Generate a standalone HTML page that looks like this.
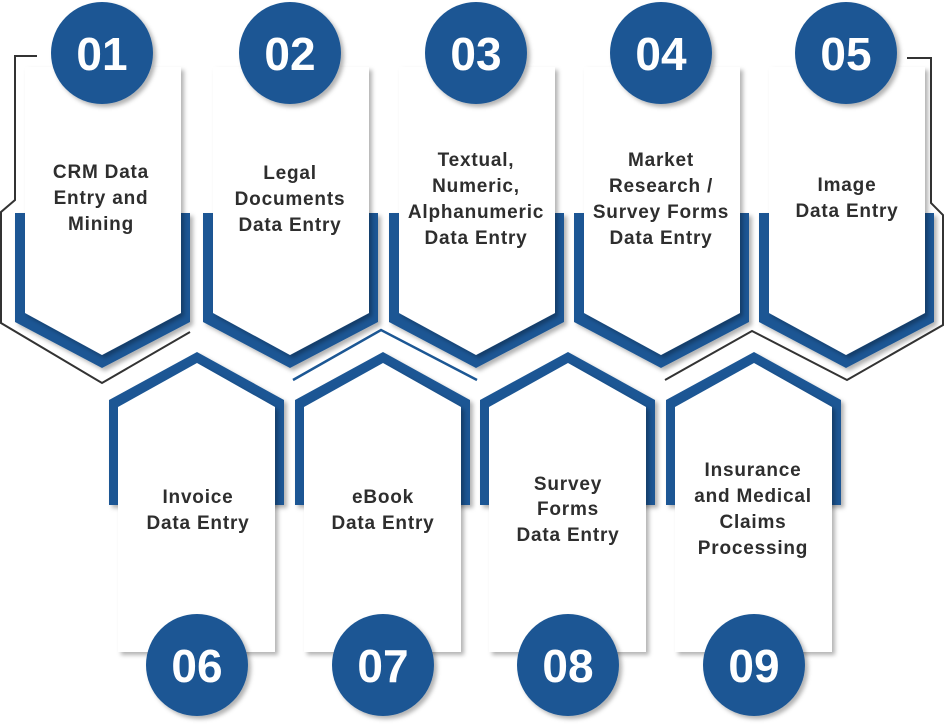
<!DOCTYPE html>
<html><head><meta charset="utf-8"><style>
html,body{margin:0;padding:0;background:#fff;}
svg{display:block;}
.t{font-family:"Liberation Sans",sans-serif;font-weight:bold;font-size:19px;fill:#2e2e2e;text-anchor:middle;letter-spacing:0.8px;}
.n{font-family:"Liberation Sans",sans-serif;font-weight:bold;font-size:46px;fill:#fff;text-anchor:middle;}
</style></head><body>
<svg width="946" height="724" viewBox="0 0 946 724" xmlns="http://www.w3.org/2000/svg">
<defs>
<filter id="sh" x="-20%" y="-20%" width="140%" height="140%"><feDropShadow dx="3" dy="3" stdDeviation="2" flood-color="#000" flood-opacity="0.3"/></filter>
<g id="top">
<polygon points="-87,213 88,213 88,322 0,368 -87,322" fill="#1c5794" filter="url(#sh)"/>
<polygon points="-77,67 79,67 79,313 0,355 -77,313" fill="#fff" filter="url(#sh)"/>
<circle cx="0" cy="53" r="51" fill="#1c5794" filter="url(#sh)"/>
</g>
<g id="bot">
<polygon points="-88,400 0,352 87,400 87,505 -88,505" fill="#1c5794" filter="url(#sh)"/>
<polygon points="-79,407 0,363 78,407 78,652 -79,652" fill="#fff" filter="url(#sh)"/>
<circle cx="0" cy="665" r="51" fill="#1c5794" filter="url(#sh)"/>
</g>
</defs>
<polyline points="37,56 15,56 15,200 1,212 1,323 102,383 190,332" fill="none" stroke="#333" stroke-width="2"/>
<polyline points="907,58 931,58 931,203 943,215 943,325 847,380 752,331 665,380" fill="none" stroke="#333" stroke-width="2"/>
<polyline points="293,380 381,330 477,380" fill="none" stroke="#1c5794" stroke-width="2.5"/>
<use href="#top" x="102"/><use href="#top" x="290"/><use href="#top" x="476"/><use href="#top" x="661"/><use href="#top" x="846"/>
<use href="#bot" x="197"/><use href="#bot" x="383"/><use href="#bot" x="568"/><use href="#bot" x="754"/>
<text class="n" x="102" y="70">01</text>
<text class="n" x="290" y="70">02</text>
<text class="n" x="476" y="70">03</text>
<text class="n" x="661" y="70">04</text>
<text class="n" x="846" y="70">05</text>
<text class="n" x="197" y="682">06</text>
<text class="n" x="383" y="682">07</text>
<text class="n" x="568" y="682">08</text>
<text class="n" x="754" y="682">09</text>
<text class="t" x="101" y="178">CRM Data</text><text class="t" x="101" y="204">Entry and</text><text class="t" x="101" y="230">Mining</text>
<text class="t" x="290" y="179">Legal</text><text class="t" x="290" y="205">Documents</text><text class="t" x="290" y="231">Data Entry</text>
<text class="t" x="476" y="166">Textual,</text><text class="t" x="476" y="192">Numeric,</text><text class="t" x="476" y="218">Alphanumeric</text><text class="t" x="476" y="244">Data Entry</text>
<text class="t" x="661" y="166">Market</text><text class="t" x="661" y="192">Research /</text><text class="t" x="661" y="218">Survey Forms</text><text class="t" x="661" y="244">Data Entry</text>
<text class="t" x="847" y="191">Image</text><text class="t" x="847" y="217">Data Entry</text>
<text class="t" x="198" y="503">Invoice</text><text class="t" x="198" y="529">Data Entry</text>
<text class="t" x="383" y="503">eBook</text><text class="t" x="383" y="529">Data Entry</text>
<text class="t" x="568" y="490">Survey</text><text class="t" x="568" y="515">Forms</text><text class="t" x="568" y="541">Data Entry</text>
<text class="t" x="753" y="476">Insurance</text><text class="t" x="753" y="502">and Medical</text><text class="t" x="753" y="528">Claims</text><text class="t" x="753" y="554">Processing</text>
</svg>
</body></html>
